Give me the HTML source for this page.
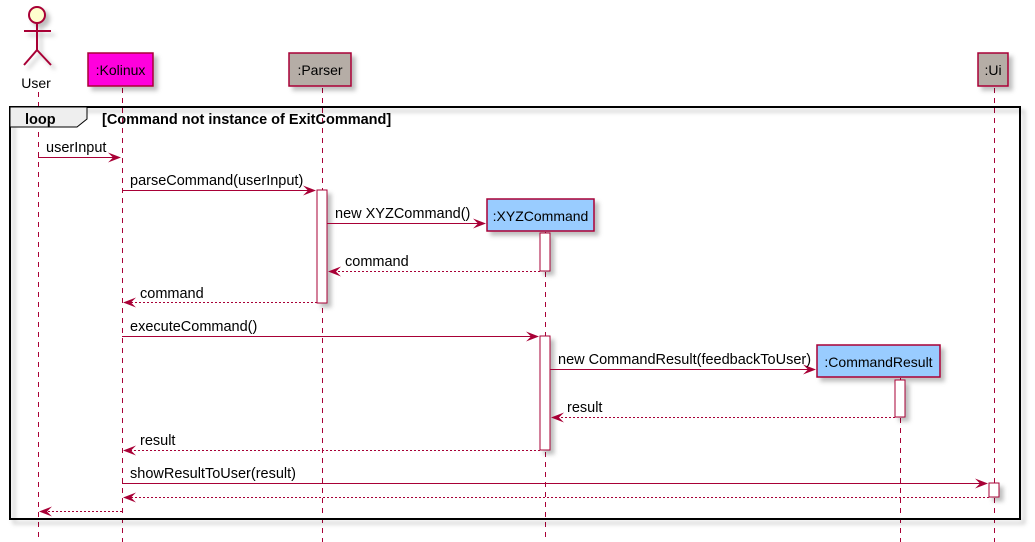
<!DOCTYPE html>
<html><head><meta charset="utf-8"><style>
html,body{margin:0;padding:0;background:#fff;width:1035px;height:542px;overflow:hidden}
svg text{font-family:"Liberation Sans",sans-serif;fill:#000}
</style></head><body>
<svg width="1035" height="542" xmlns="http://www.w3.org/2000/svg">
<defs>
<filter id="sh" x="-20%" y="-20%" width="150%" height="150%"><feDropShadow dx="4" dy="4" stdDeviation="2" flood-color="#000" flood-opacity="0.25"/></filter>
</defs>
<g stroke="#A80036" stroke-width="1" stroke-dasharray="5,5" shape-rendering="crispEdges">
<line x1="38.5" y1="92" x2="38.5" y2="542"/>
<line x1="122.5" y1="88" x2="122.5" y2="542"/>
<line x1="322.5" y1="88" x2="322.5" y2="542"/>
<line x1="545.5" y1="232" x2="545.5" y2="542"/>
<line x1="900.5" y1="378" x2="900.5" y2="542"/>
<line x1="994.5" y1="88" x2="994.5" y2="542"/>
</g>
<g stroke="#A80036" stroke-width="2" fill="none" filter="url(#sh)">
<circle cx="37" cy="15" r="8" fill="#FEFECE"/>
<line x1="37" y1="23" x2="37" y2="50"/>
<line x1="24" y1="31" x2="51" y2="31"/>
<line x1="37" y1="50" x2="24" y2="65"/>
<line x1="37" y1="50" x2="51" y2="65"/>
</g>
<text x="36" y="88" text-anchor="middle" style="font-size:14px">User</text>
<g stroke="#A80036" stroke-width="1.5" filter="url(#sh)">
<rect x="88" y="53" width="65" height="33" fill="#FF00DD"/>
<rect x="289" y="53" width="62" height="33" fill="#B5ADA6"/>
<rect x="978" y="53" width="30" height="33" fill="#B5ADA6"/>
<rect x="487" y="199" width="107" height="32" fill="#99CCFF"/>
<rect x="817" y="345" width="123" height="32" fill="#99CCFF"/>
</g>
<text x="120.5" y="75" text-anchor="middle" style="font-size:14px">:Kolinux</text>
<text x="320" y="75" text-anchor="middle" style="font-size:14px">:Parser</text>
<text x="993" y="75" text-anchor="middle" style="font-size:14px">:Ui</text>
<text x="540.5" y="221" text-anchor="middle" style="font-size:14px">:XYZCommand</text>
<text x="878.5" y="367" text-anchor="middle" style="font-size:14px">:CommandResult</text>
<g filter="url(#sh)">
<rect x="10" y="107" width="1010" height="412" fill="none" stroke="#000" stroke-width="2"/>
</g>
<path d="M10,107 L87,107 L87,119 L77,127 L10,127 Z" fill="#EEEEEE" stroke="#000" stroke-width="1"/>
<text x="25" y="124" style="font-weight:bold;font-size:14.5px">loop</text>
<text x="102" y="124" style="font-weight:bold;font-size:14.5px">[Command not instance of ExitCommand]</text>
<g fill="#fff" stroke="#A80036" stroke-width="1" filter="url(#sh)">
<rect x="317" y="190" width="10" height="113"/>
<rect x="540" y="233" width="10" height="38"/>
<rect x="540" y="336" width="10" height="114"/>
<rect x="895" y="380" width="10" height="37"/>
<rect x="989" y="483" width="10" height="14"/>
</g>
<g stroke="#A80036" stroke-width="1" fill="none" shape-rendering="crispEdges">
<line x1="38" y1="157.5" x2="118" y2="157.5"/>
<line x1="122" y1="190.5" x2="313" y2="190.5"/>
<line x1="327" y1="223.5" x2="483" y2="223.5"/>
<line x1="540" y1="271.5" x2="331" y2="271.5" stroke-dasharray="2,2"/>
<line x1="317" y1="302.5" x2="126" y2="302.5" stroke-dasharray="2,2"/>
<line x1="122" y1="336.5" x2="536" y2="336.5"/>
<line x1="550" y1="369.5" x2="813" y2="369.5"/>
<line x1="895" y1="417.5" x2="554" y2="417.5" stroke-dasharray="2,2"/>
<line x1="540" y1="450.5" x2="126" y2="450.5" stroke-dasharray="2,2"/>
<line x1="122" y1="483.5" x2="985" y2="483.5"/>
<line x1="989" y1="497.5" x2="126" y2="497.5" stroke-dasharray="2,2"/>
<line x1="122" y1="511.5" x2="42" y2="511.5" stroke-dasharray="2,2"/>
</g>
<g fill="#A80036">
<path d="M121,157.5 L108,152.5 L113,157.5 L108,162.5 Z"/>
<path d="M316,190.5 L303,185.5 L308,190.5 L303,195.5 Z"/>
<path d="M486,223.5 L473,218.5 L478,223.5 L473,228.5 Z"/>
<path d="M328,271.5 L341,266.5 L336,271.5 L341,276.5 Z"/>
<path d="M123,302.5 L136,297.5 L131,302.5 L136,307.5 Z"/>
<path d="M539,336.5 L526,331.5 L531,336.5 L526,341.5 Z"/>
<path d="M816,369.5 L803,364.5 L808,369.5 L803,374.5 Z"/>
<path d="M551,417.5 L564,412.5 L559,417.5 L564,422.5 Z"/>
<path d="M123,450.5 L136,445.5 L131,450.5 L136,455.5 Z"/>
<path d="M988,483.5 L975,478.5 L980,483.5 L975,488.5 Z"/>
<path d="M123,497.5 L136,492.5 L131,497.5 L136,502.5 Z"/>
<path d="M39,511.5 L52,506.5 L47,511.5 L52,516.5 Z"/>
</g>
<g style="font-size:14.5px">
<text x="46" y="152" style="font-size:14.5px">userInput</text>
<text x="130" y="185" style="font-size:14.5px">parseCommand(userInput)</text>
<text x="335" y="218" style="font-size:14.5px">new XYZCommand()</text>
<text x="345" y="266" style="font-size:14.5px">command</text>
<text x="140" y="298" style="font-size:14.5px">command</text>
<text x="130" y="331" style="font-size:14.5px">executeCommand()</text>
<text x="558" y="364" style="font-size:14.5px">new CommandResult(feedbackToUser)</text>
<text x="567" y="412" style="font-size:14.5px">result</text>
<text x="140" y="445" style="font-size:14.5px">result</text>
<text x="130" y="478" style="font-size:14.5px">showResultToUser(result)</text>
</g>
</svg>
</body></html>
